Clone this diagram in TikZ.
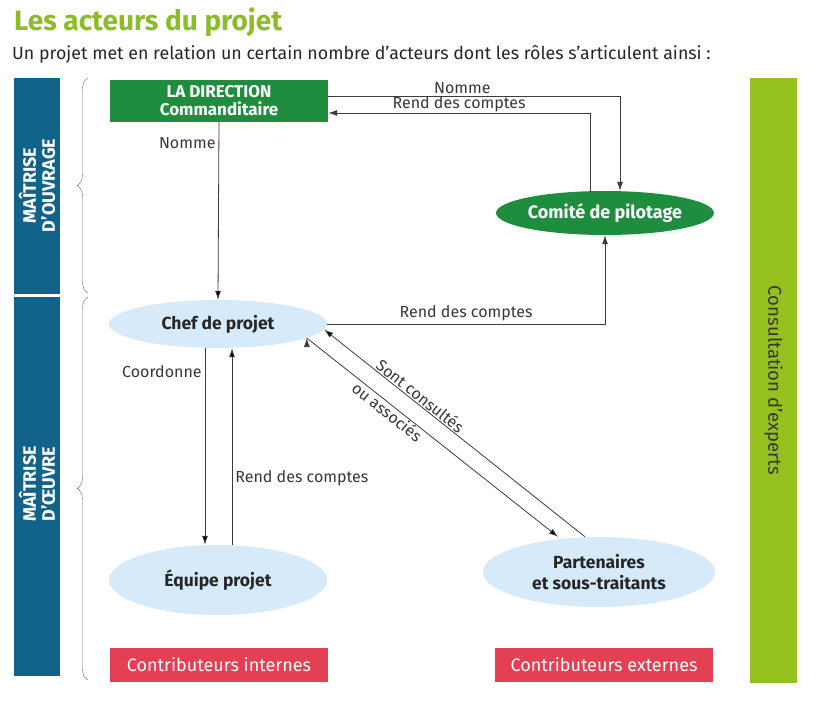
\documentclass[tikz,border=0pt]{standalone}
\usepackage{fontspec}
\setmainfont{Fira Sans}
\usetikzlibrary{positioning,shapes.geometric,decorations.pathreplacing,arrows.meta}
\definecolor{titlegreen}{RGB}{140,188,40}
\definecolor{dirgreen}{RGB}{30,142,62}
\definecolor{barblue}{RGB}{17,99,138}
\definecolor{paleblue}{RGB}{214,234,249}
\definecolor{boxred}{RGB}{228,64,84}
\definecolor{limebar}{RGB}{150,192,30}
\definecolor{linegray}{RGB}{60,60,60}
\definecolor{textgray}{RGB}{55,55,55}

\begin{document}
\begin{tikzpicture}[x=1pt,y=-1pt,
    every node/.style={font=\fontsize{16}{18}\selectfont,text=textgray},
    dirbox/.style={rectangle,fill=dirgreen,minimum width=218pt,minimum height=42pt,
      align=center,text=white,font=\fontsize{17}{18}\selectfont\bfseries},
    darkoval/.style={ellipse,fill=dirgreen,inner sep=0pt,minimum width=210pt,minimum height=44pt,
      text=white,font=\fontsize{18}{20}\selectfont\bfseries},
    paleoval/.style={ellipse,fill=paleblue,inner sep=0pt,minimum width=218pt,minimum height=48pt,
      align=center,text=black!85,font=\fontsize{17.5}{21}\selectfont\bfseries},
    redbox/.style={rectangle,fill=boxred,minimum width=218pt,minimum height=34pt,
      text=white,font=\fontsize{18}{20}\selectfont},
    bar/.style={rectangle,inner sep=0pt,align=center,minimum height=46pt},
    brace/.style={draw=gray!80!black,thin,decorate,decoration={brace,amplitude=11pt}},
    arr/.style={draw=linegray,line width=0.8pt,-{Latex[length=9pt,width=6pt]}},
    lbl/.style={inner sep=3pt}]
  \useasboundingbox (0,0) rectangle (831,706);

  % title
  \node[anchor=west,inner sep=0pt,text=titlegreen,font=\fontsize{28}{30}\selectfont\bfseries]
    (title) at (14,22) {Les acteurs du projet};
  \node[anchor=west,inner sep=0pt,font=\fontsize{17.8}{20}\selectfont,text=black!85]
    (subtitle) at (12,54) {Un projet met en relation un certain nombre d’acteurs dont les rôles s’articulent ainsi :};

  % side bars
  \node[bar,fill=barblue,rotate=90,minimum width=215pt,text=white,font=\fontsize{18}{19}\selectfont\bfseries]
    (moa) at (37,185.5) {MAÎTRISE\\D'OUVRAGE};
  \node[bar,fill=barblue,rotate=90,minimum width=383pt,text=white,font=\fontsize{18}{19}\selectfont\bfseries]
    (moe) at (37,484) {MAÎTRISE\\D'ŒUVRE};
  \node[bar,fill=limebar,rotate=-90,minimum width=605pt,minimum height=47pt,text=textgray,font=\fontsize{18.5}{20}\selectfont]
    (experts) at (773.5,380.5) {Consultation d'experts};
  \fill[white] (14,294) rectangle (60,297);

  % braces
  \draw[brace] (88,293) -- (88,78);
  \draw[brace] (88,680) -- (88,297);

  % actors
  \node[dirbox] (direction) at (219,101) {LA DIRECTION\\Commanditaire};
  \node[darkoval] (copil) at (605,213) {Comité de pilotage};
  \node[paleoval] (chef) at (218,324) {Chef de projet};
  \node[paleoval,minimum height=70pt] (equipe) at (218,580) {Équipe projet};
  \node[paleoval,minimum width=232pt,minimum height=70pt] (partners) at (599,572) {Partenaires\\et sous-traitants};
  \node[redbox] (internes) at (219,665) {Contributeurs internes};
  \node[redbox] (externes) at (604,665) {Contributeurs externes};

  % relations
  \draw[arr] ([yshift=5pt]direction.east) -| ([xshift=15pt]copil.north)
    node[lbl,pos=0.23,above,inner sep=1.5pt] {Nomme};
  \draw[arr] ([xshift=-15pt]copil.north) |- ([yshift=-12pt]direction.east)
    node[lbl,pos=0.75,above,inner sep=0.5pt] {Rend des comptes};
  \draw[arr] (chef.east) -| (copil.south)
    node[lbl,pos=0.25,above] {Rend des comptes};
  \path[arr]
    (direction.south) edge node[lbl,pos=0.12,left] {Nomme} (chef.north)
    ([xshift=-13pt]chef.south) edge node[lbl,pos=0.12,left] {Coordonne} ([xshift=-13pt]equipe.north)
    ([xshift=14pt]equipe.north) edge node[lbl,pos=0.34,right] {Rend des comptes} ([xshift=14pt]chef.south)
    ([xshift=-14pt]partners.north) edge node[lbl,pos=0.65,sloped,above,inner sep=1pt] {Sont consultés} (chef.-3)
    (chef.-9) edge node[lbl,pos=0.34,sloped,below,inner sep=1pt] {ou associés} ([xshift=-41pt]partners.north);
\end{tikzpicture}
\end{document}
